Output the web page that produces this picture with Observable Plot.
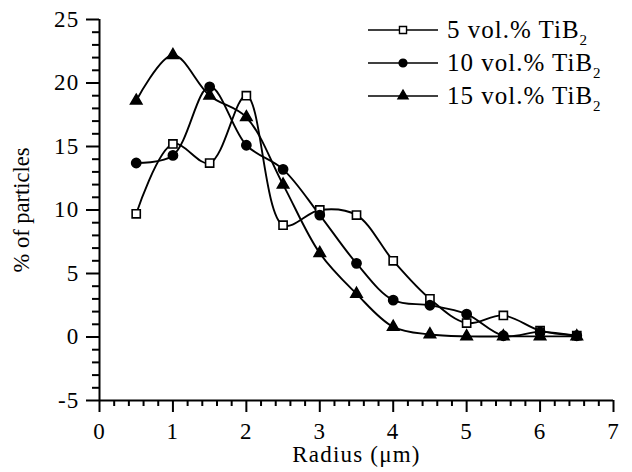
<!DOCTYPE html>
<html>
<head>
<meta charset="utf-8">
<script src="https://cdn.jsdelivr.net/npm/d3@7"></script>
<script src="https://cdn.jsdelivr.net/npm/@observablehq/plot@0.6"></script>
<style>
  html, body { margin: 0; padding: 0; background: #fff; }
  #wrap { position: relative; width: 632px; height: 472px; font-family: "Liberation Serif", "Times New Roman", serif; }
  #wrap svg text { font-size: 23px !important; letter-spacing: 1.2px; font-family: "Liberation Serif", "Times New Roman", serif !important; fill: #000; }
  #wrap svg g[aria-label="y-axis label"] text { letter-spacing: 0; font-size: 22.5px !important; }
  #legend { position: absolute; left: 366px; top: 13px; font-size: 25px; letter-spacing: 1px; color: #000; }
  .row { position: relative; height: 33px; display: flex; align-items: center; }
  .row svg { display: block; }
  .row span { margin-left: 7px; line-height: 22px; height: 22px; white-space: nowrap; }
  sub { font-size: 15px; vertical-align: -7px; line-height: 0; }
</style>
</head>
<body>
<div id="wrap"><div id="legend"></div></div>
<script>
const radius = [0.5, 1.0, 1.5, 2.0, 2.5, 3.0, 3.5, 4.0, 4.5, 5.0, 5.5, 6.0, 6.5];
const series = ["5 vol.% TiB", "10 vol.% TiB", "15 vol.% TiB"];
const vol5  = [9.7, 15.2, 13.7, 19.0, 8.8, 10.0, 9.6, 6.0, 3.0, 1.1, 1.7, 0.5, 0.1];
const vol10 = [13.7, 14.3, 19.7, 15.1, 13.2, 9.6, 5.8, 2.9, 2.5, 1.8, 0.1, 0.4, 0.1];
const vol15 = [18.6, 22.2, 19.0, 17.3, 12.0, 6.6, 3.4, 0.8, 0.2, 0.05, 0.05, 0.05, 0.05];
const xMajor = [0, 1, 2, 3, 4, 5, 6, 7];
const xMinor = d3.range(0, 35).map(i => i / 5).filter(v => !Number.isInteger(v));
const yMajor = [-5, 0, 5, 10, 15, 20, 25];
const yMinor = d3.range(-5, 26).filter(v => v % 5 !== 0);

const symbols = ["square", "circle", "triangle"];
const fills = ["white", "black", "black"];
const radii = [4.6, 4.6, 4.2];
const values = [vol5, vol10, vol15];

const data = values.flatMap((vals, s) => vals.map((v, i) => ({x: radius[i], y: v, s})));

const marks = [
  Plot.axisX(xMinor, {tickSize: 6, strokeWidth: 2, tickFormat: () => "", label: null}),
  Plot.axisY(yMinor, {tickSize: 7, strokeWidth: 2, tickFormat: () => "", label: null}),
  Plot.axisX(xMajor, {tickSize: 12, strokeWidth: 2, tickPadding: 10, tickFormat: d => String(d), label: "Radius (μm)", labelAnchor: "center", labelOffset: 61, labelArrow: "none"}),
  Plot.axisY(yMajor, {tickSize: 13, strokeWidth: 2, tickPadding: 7, tickFormat: d => String(d), label: "% of particles", labelAnchor: "center", labelOffset: 86, labelArrow: "none"}),
  Plot.ruleX([0], {y1: -5, y2: 25, strokeWidth: 2}),
  Plot.ruleY([-5], {x1: 0, x2: 7, strokeWidth: 2})
];
values.forEach((vals, s) => {
  const d = data.filter(p => p.s === s);
  marks.push(Plot.line(d, {x: "x", y: "y", curve: "catmull-rom", stroke: "black", strokeWidth: 1.9}));
});
values.forEach((vals, s) => {
  const d = data.filter(p => p.s === s);
  marks.push(Plot.dot(d, {x: "x", y: "y", symbol: symbols[s], r: radii[s], fill: fills[s], stroke: "black", strokeWidth: 1.6}));
});

const chart = Plot.plot({
  width: 632,
  height: 472,
  marginLeft: 99,
  marginRight: 19,
  marginTop: 19,
  marginBottom: 72,
  style: {fontFamily: "'Liberation Serif', 'Times New Roman', serif", fontSize: "23px", color: "black", background: "white"},
  x: {domain: [0, 7]},
  y: {domain: [-5, 25]},
  marks
});
document.getElementById("wrap").prepend(chart);

// legend
const legend = document.getElementById("legend");
series.forEach((name, s) => {
  const row = document.createElement("div");
  row.className = "row";
  const sym = d3.symbol(s === 0 ? d3.symbolSquare : s === 1 ? d3.symbolCircle : d3.symbolTriangle, s === 0 ? 50 : s === 1 ? 48 : 44)();
  row.innerHTML = `<svg width="74" height="20"><line x1="2" x2="72" y1="10" y2="10" stroke="black" stroke-width="1.6"/>` +
    `<path d="${sym}" transform="translate(37,10)" fill="${fills[s]}" stroke="black" stroke-width="1.4"/></svg>` +
    `<span>${name}<sub>2</sub></span>`;
  legend.appendChild(row);
});
</script>
</body>
</html>
